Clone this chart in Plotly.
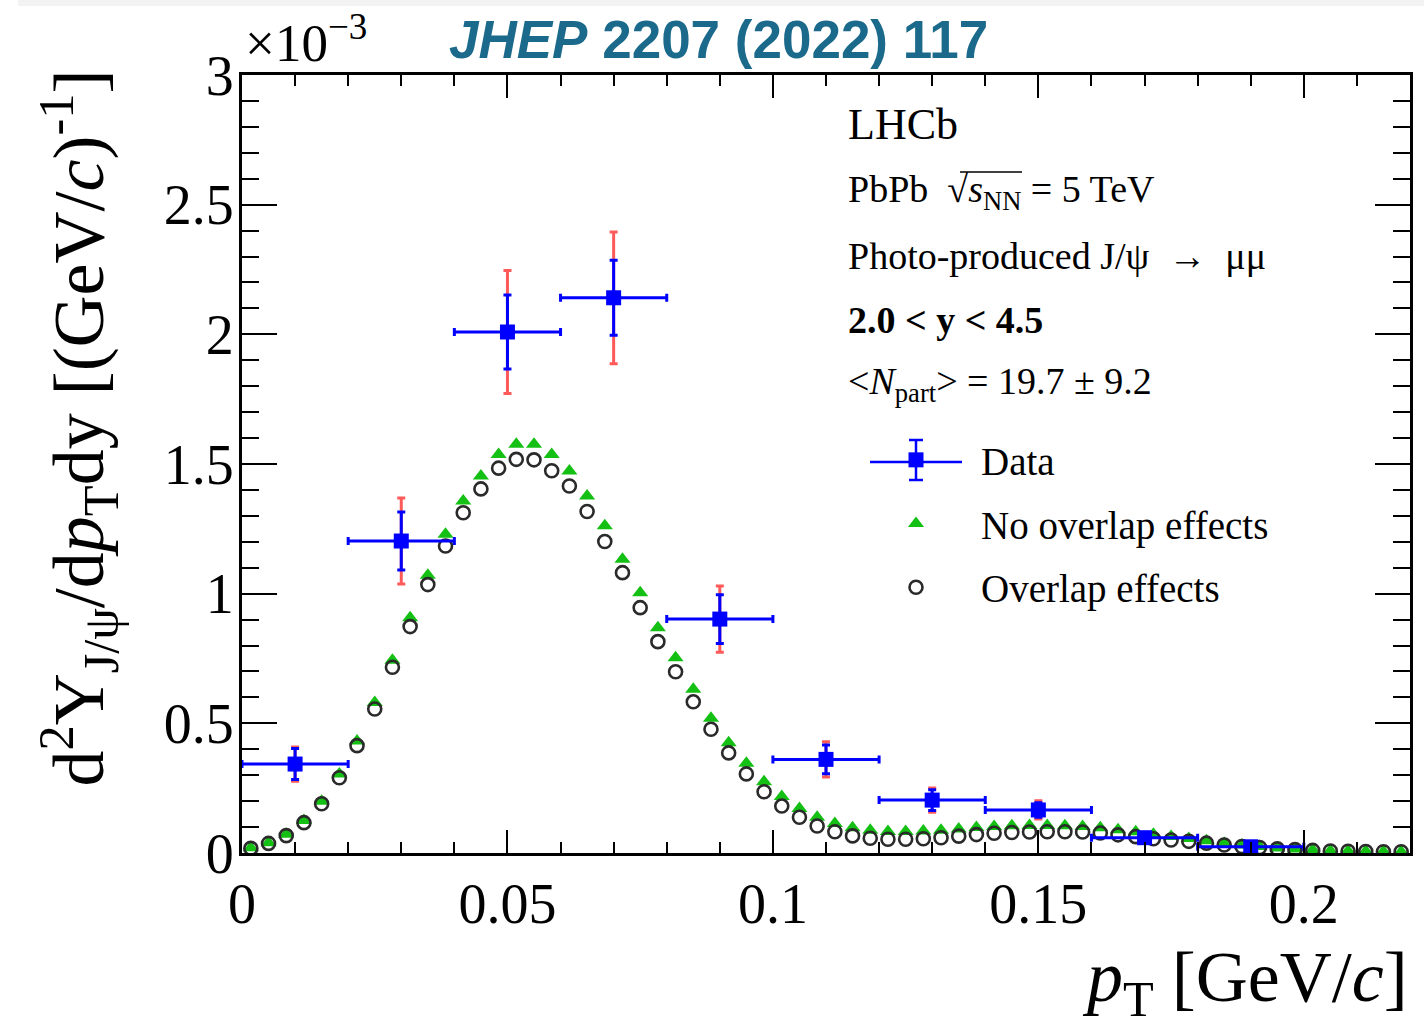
import plotly.graph_objects as go

# ---------------- data (y in units of 1e-3) ----------------
model_pt = [(i + 0.5) / 300 for i in range(66)]

no_overlap = [0.020, 0.040, 0.072, 0.125, 0.200, 0.305, 0.432, 0.580, 0.743, 0.907,
              1.071, 1.229, 1.357, 1.454, 1.537, 1.576, 1.576, 1.537, 1.473, 1.377,
              1.262, 1.133, 1.004, 0.869, 0.753, 0.631, 0.520, 0.425, 0.346, 0.275,
              0.218, 0.172, 0.138, 0.114, 0.097, 0.088, 0.083, 0.083, 0.085, 0.088,
              0.093, 0.098, 0.102, 0.105, 0.106, 0.106, 0.105, 0.102, 0.097, 0.090,
              0.082, 0.072, 0.064, 0.056, 0.047, 0.038, 0.031, 0.025, 0.019, 0.015,
              0.012, 0.009, 0.008, 0.007, 0.006, 0.005]

overlap = [0.018, 0.037, 0.067, 0.117, 0.190, 0.290, 0.414, 0.555, 0.716, 0.873,
           1.035, 1.184, 1.312, 1.404, 1.484, 1.518, 1.516, 1.474, 1.415, 1.317,
           1.201, 1.081, 0.946, 0.815, 0.699, 0.583, 0.477, 0.386, 0.305, 0.236,
           0.181, 0.138, 0.104, 0.082, 0.066, 0.057, 0.053, 0.053, 0.055, 0.059,
           0.065, 0.071, 0.076, 0.079, 0.081, 0.082, 0.082, 0.081, 0.077, 0.070,
           0.063, 0.055, 0.050, 0.045, 0.038, 0.031, 0.025, 0.021, 0.016, 0.013,
           0.010, 0.008, 0.007, 0.006, 0.005, 0.005]

data_pt = [0.01, 0.03, 0.05, 0.07, 0.09, 0.11, 0.13, 0.15, 0.17, 0.19]
data_pt_halfwidth = [0.01] * 10
data_y = [0.343, 1.203, 2.009, 2.141, 0.902, 0.361, 0.204, 0.166, 0.059, 0.024]
data_stat = [0.060, 0.112, 0.143, 0.145, 0.094, 0.055, 0.040, 0.028, 0.015, 0.010]
data_total = [0.066, 0.166, 0.237, 0.254, 0.128, 0.068, 0.047, 0.035, 0.018, 0.012]

x_tickvals = [0, 0.05, 0.1, 0.15, 0.2]
x_ticktext = ["0", "0.05", "0.1", "0.15", "0.2"]
y_tickvals = [0, 0.5, 1, 1.5, 2, 2.5, 3]
y_ticktext = ["0", "0.5", "1", "1.5", "2", "2.5", "3"]

SERIF = "Liberation Serif"
GREEN = "#14c014"
BLUE = "#0000ff"
RED = "#ff5a5a"

fig = go.Figure()

fig.add_trace(go.Scatter(
    x=model_pt, y=no_overlap, mode="markers", name="No overlap effects",
    legendgroup="b", legendrank=2,
    marker=dict(symbol="triangle-up", size=14, color=GREEN, line=dict(width=0)),
))
fig.add_trace(go.Scatter(
    x=model_pt, y=overlap, mode="markers", name="Overlap effects",
    legendgroup="c", legendrank=3,
    marker=dict(symbol="circle-open", size=13, color="#2a2a2a", line=dict(width=2.6)),
))
fig.add_trace(go.Scatter(
    x=data_pt, y=data_y, mode="markers", showlegend=False, hoverinfo="skip",
    marker=dict(size=1, color="rgba(0,0,0,0)"),
    error_y=dict(type="data", array=data_total, color=RED, thickness=3, width=4),
))
fig.add_trace(go.Scatter(
    x=data_pt, y=data_y, mode="markers", name="Data",
    legendgroup="a", legendrank=1,
    marker=dict(symbol="square", size=15, color=BLUE),
    error_x=dict(type="data", array=data_pt_halfwidth, color=BLUE, thickness=3, width=4),
    error_y=dict(type="data", array=data_stat, color=BLUE, thickness=3, width=4),
))

axis_common = dict(
    showline=True, linecolor="black", linewidth=3, mirror="allticks",
    ticks="inside", tickcolor="black", tickwidth=2,
    showgrid=False, zeroline=False,
    tickfont=dict(family=SERIF, size=56, color="black"),
)

fig.update_xaxes(
    range=[0, 0.22], tickmode="array", tickvals=x_tickvals, ticktext=x_ticktext,
    ticklen=23, ticklabelstandoff=0,
    minor=dict(dtick=0.01, ticklen=11, tickwidth=2, tickcolor="black", ticks="inside", showgrid=False),
    **axis_common,
)
fig.update_yaxes(
    range=[0, 3], tickmode="array", tickvals=y_tickvals, ticktext=y_ticktext,
    ticklen=35, ticklabelstandoff=-6,
    minor=dict(dtick=0.1, ticklen=17, tickwidth=2, tickcolor="black", ticks="inside", showgrid=False),
    **axis_common,
)

PH = 778.0
PW = 1168.0

def py(pix):
    return (853 - pix) / PH

def px(pix):
    return (pix - 242) / PW

TXT = 38

annotations = [
    dict(text="<b><i>JHEP</i> 2207 (2022) 117</b>", x=px(718), y=py(40), xref="paper", yref="paper",
         xanchor="center", yanchor="middle", showarrow=False,
         font=dict(family="Liberation Sans", size=53, color="#1b6a8c")),
    dict(text="×10<sup>−3</sup>", x=px(243), y=py(74), xref="paper", yref="paper",
         xanchor="left", yanchor="bottom", showarrow=False,
         font=dict(family=SERIF, size=53, color="black")),
    dict(text="d<sup>2</sup>Y<sub>J/ψ</sub>/d<i>p</i><sub>T</sub>dy [(GeV/<i>c</i>)<sup>-1</sup>]",
         x=px(78), y=py(68), xref="paper", yref="paper", textangle=-90,
         xanchor="center", yanchor="top", showarrow=False,
         font=dict(family=SERIF, size=72, color="black")),
    dict(text="<i>p</i><sub>T</sub> [GeV/<i>c</i>]", x=1.0, y=py(982), xref="paper", yref="paper",
         xanchor="right", yanchor="middle", showarrow=False,
         font=dict(family=SERIF, size=72, color="black")),
    dict(text="LHCb", x=px(846), y=py(125), xref="paper", yref="paper",
         xanchor="left", yanchor="middle", showarrow=False,
         font=dict(family=SERIF, size=44, color="black")),
    dict(text="PbPb  √<i>s</i><sub>NN</sub> = 5 TeV",
         x=px(846), y=py(192), xref="paper", yref="paper",
         xanchor="left", yanchor="middle", showarrow=False,
         font=dict(family=SERIF, size=TXT, color="black")),
    dict(text="Photo-produced J/ψ  →  μμ", x=px(846), y=py(256), xref="paper", yref="paper",
         xanchor="left", yanchor="middle", showarrow=False,
         font=dict(family=SERIF, size=TXT, color="black")),
    dict(text="<b>2.0 &lt; y &lt; 4.5</b>", x=px(846), y=py(320), xref="paper", yref="paper",
         xanchor="left", yanchor="middle", showarrow=False,
         font=dict(family=SERIF, size=TXT, color="black")),
    dict(text="&lt;<i>N</i><sub>part</sub>&gt; = 19.7 ± 9.2", x=px(846), y=py(384), xref="paper", yref="paper",
         xanchor="left", yanchor="middle", showarrow=False,
         font=dict(family=SERIF, size=TXT, color="black")),
]

# legend decorations for the Data entry (error-bar arms) and sqrt overline
LEG_Y = 462
LEG_X = 916
shapes = [
    dict(type="rect", xref="paper", yref="paper", x0=px(18), x1=px(1424), y0=py(6), y1=py(0),
         fillcolor="#f3f3f3", line=dict(width=0), layer="below"),
    dict(type="line", xref="paper", yref="paper", x0=px(960), x1=px(1022), y0=py(172), y1=py(172),
         line=dict(color="black", width=1.5)),
    dict(type="line", xref="paper", yref="paper", x0=px(870), x1=px(962), y0=py(LEG_Y), y1=py(LEG_Y),
         line=dict(color=BLUE, width=2.5)),
    dict(type="line", xref="paper", yref="paper", x0=px(LEG_X), x1=px(LEG_X), y0=py(440), y1=py(480),
         line=dict(color=BLUE, width=2.5)),
    dict(type="line", xref="paper", yref="paper", x0=px(LEG_X - 7), x1=px(LEG_X + 7), y0=py(440), y1=py(440),
         line=dict(color=BLUE, width=2.5)),
    dict(type="line", xref="paper", yref="paper", x0=px(LEG_X - 7), x1=px(LEG_X + 7), y0=py(480), y1=py(480),
         line=dict(color=BLUE, width=2.5)),
]

fig.update_layout(
    width=1424, height=1029,
    margin=dict(l=242, r=14, t=75, b=176),
    paper_bgcolor="white", plot_bgcolor="white",
    showlegend=True,
    legend=dict(
        x=px(851), y=py(428), xanchor="left", yanchor="top",
        bgcolor="rgba(0,0,0,0)", borderwidth=0,
        font=dict(family=SERIF, size=39, color="black"),
        itemwidth=120, tracegroupgap=10, traceorder="grouped",
    ),
    annotations=annotations,
    shapes=shapes,
)

fig.write_html("out.html")
